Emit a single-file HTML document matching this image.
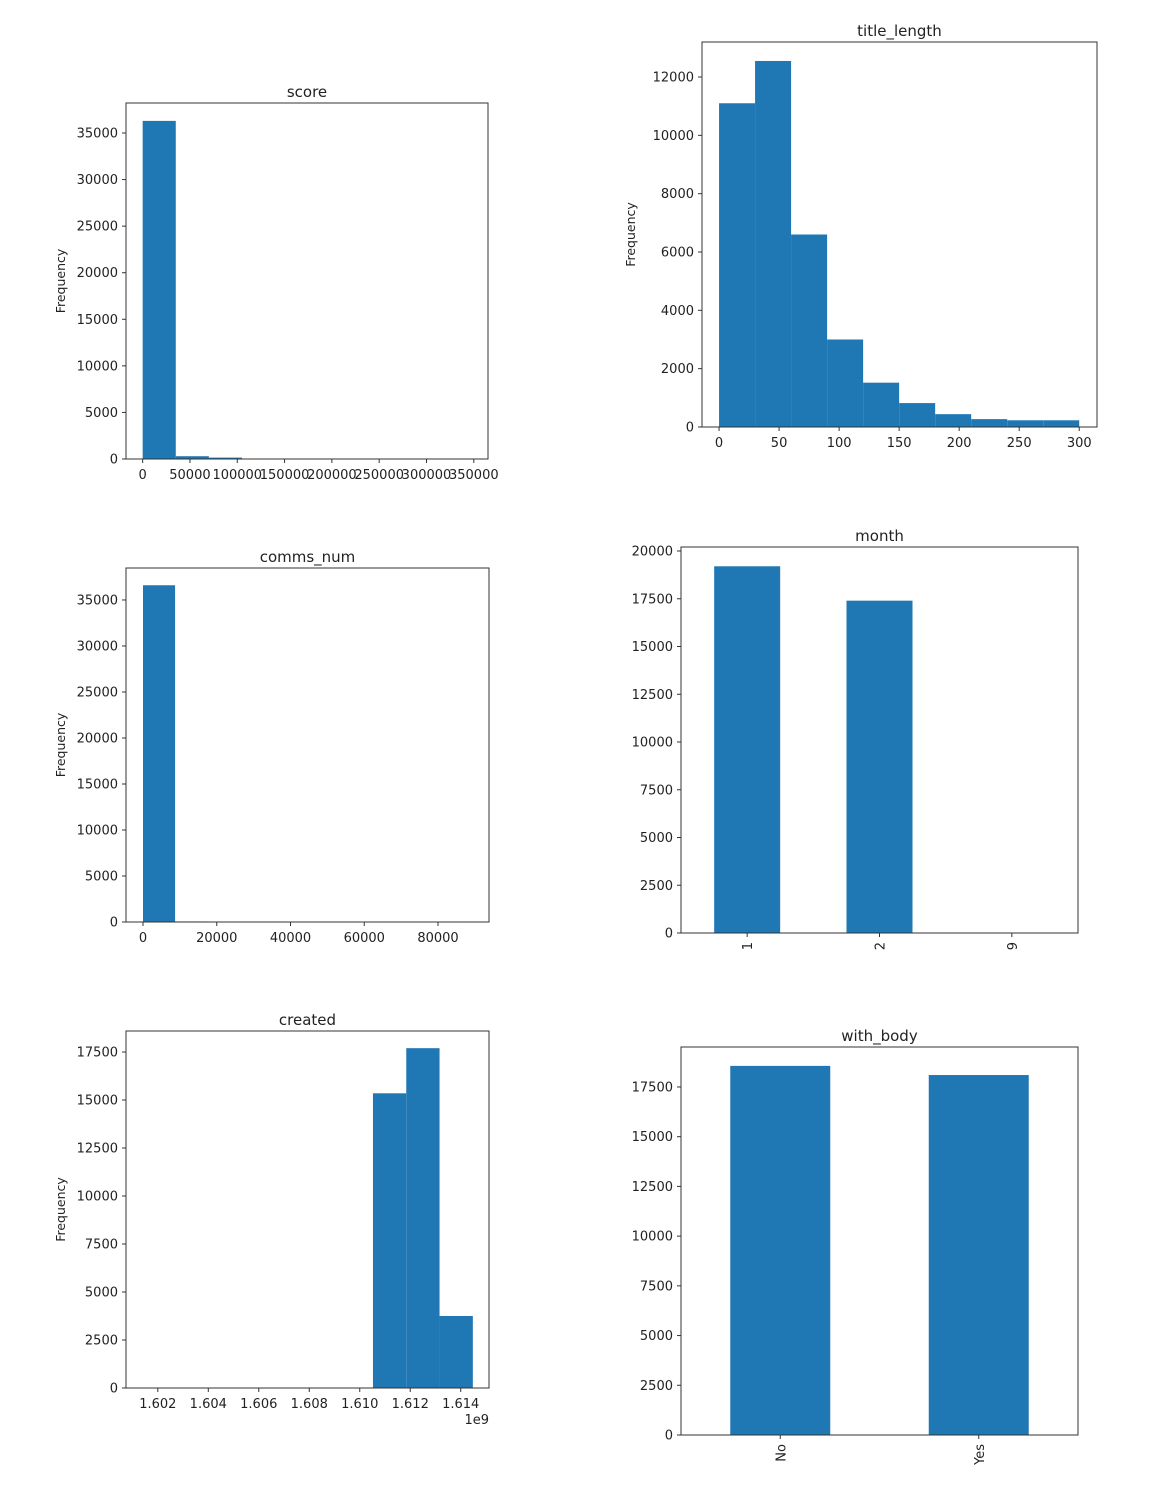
<!DOCTYPE html>
<html><head><meta charset="utf-8"><style>
body{margin:0;background:#fff;}
svg text{font-family:"DejaVu Sans","Liberation Sans",sans-serif;fill:#222;}
</style></head><body>
<svg id="fig" width="1154" height="1494" xmlns="http://www.w3.org/2000/svg"></svg>
<script>
// score histogram
const scoreCounts=[36300,300,150,20,5,3,2,1,1,1];
const scoreRange=[0,350000];
const scoreTicks=[0,50000,100000,150000,200000,250000,300000,350000];
const scoreYTicks=[0,5000,10000,15000,20000,25000,30000,35000];
// title_length histogram
const titleCounts=[11100,12550,6600,3000,1520,820,440,270,230,230];
const titleRange=[0,300];
const titleTicks=[0,50,100,150,200,250,300];
const titleYTicks=[0,2000,4000,6000,8000,10000,12000];
// comms_num histogram
const commsCounts=[36600,60,20,8,4,2,1,1,1,1];
const commsRange=[0,87000];
const commsTicks=[0,20000,40000,60000,80000];
const commsYTicks=[0,5000,10000,15000,20000,25000,30000,35000];
// month bar
const monthCats=["1","2","9"];
const monthVals=[19200,17400,5];
const monthYTicks=[0,2500,5000,7500,10000,12500,15000,17500,20000];
// created histogram
const createdCounts=[0,0,0,0,0,0,0,15350,17700,3750];
const createdRange=[1.60129,1.61448];
const createdTicks=[1.602,1.604,1.606,1.608,1.610,1.612,1.614];
const createdYTicks=[0,2500,5000,7500,10000,12500,15000,17500];
// with_body bar
const bodyCats=["No","Yes"];
const bodyVals=[18560,18100];
const bodyYTicks=[0,2500,5000,7500,10000,12500,15000,17500];

const NS="http://www.w3.org/2000/svg";
const svg=document.getElementById('fig');
function mk(tag,attrs,parent,txt){const e=document.createElementNS(NS,tag);for(const k in attrs)e.setAttribute(k,attrs[k]);if(txt!==undefined)e.textContent=txt;(parent||svg).appendChild(e);return e;}
const BLUE="#1f77b4";

function axes(p){
  const g=mk('g',{});
  
  
  const ys=v=>p.y1-(v-0)/(p.ymax)*(p.y1-p.y0);
  const xs=v=>p.x0+(v-p.xmin)/(p.xmax-p.xmin)*(p.x1-p.x0);
  return {g,ys,xs};
}
function frame(p,g,ys,title,ylabel){
  mk('rect',{x:p.x0,y:p.y0,width:p.x1-p.x0,height:p.y1-p.y0,fill:'none',stroke:'#333','stroke-width':1},g);
  const t=mk('text',{x:(p.x0+p.x1)/2,y:p.y0-6,'text-anchor':'middle','font-size':15},g,title);
  
  
  p.yt.forEach(v=>{const y=ys(v);
    mk('line',{x1:p.x0-4,x2:p.x0,y1:y,y2:y,stroke:'#333'},g);
    const l=mk('text',{x:p.x0-8,y:y+4.5,'text-anchor':'end','font-size':13},g,String(v));
    
    
  });
  if(ylabel){const yl=mk('text',{x:0,y:0,'font-size':12.5,'text-anchor':'middle',transform:`translate(${p.ylx},${(p.y0+p.y1)/2}) rotate(-90)`},g,'Frequency');
    
    }
}
function hist(p,counts,range,xt,title,fmt){
  p.xmin=p.dxmin;p.xmax=p.dxmax;
  const {g,ys,xs}=axes(p);
  const w=(range[1]-range[0])/counts.length;
  counts.forEach((c,i)=>{const a=xs(range[0]+i*w),b=xs(range[0]+(i+1)*w);
    const r=mk('rect',{x:a,y:ys(c),width:b-a,height:ys(0)-ys(c),fill:BLUE},g);
    
    });
  frame(p,g,ys,title,true);
  xt.forEach(v=>{const x=xs(v);
    mk('line',{x1:x,x2:x,y1:p.y1,y2:p.y1+4,stroke:'#333'},g);
    const l=mk('text',{x:x,y:p.y1+20,'text-anchor':'middle','font-size':13},g,fmt?fmt(v):String(v));
    
    });
  return g;
}
function bars(p,cats,vals,title,bw){
  const {g,ys}=axes(p);
  const n=cats.length, step=(p.x1-p.x0)/n;
  cats.forEach((c,i)=>{const cx=p.x0+step*(i+0.5);
    const r=mk('rect',{x:cx-bw/2,y:ys(vals[i]),width:bw,height:ys(0)-ys(vals[i]),fill:BLUE},g);
    
    
    mk('line',{x1:cx,x2:cx,y1:p.y1,y2:p.y1+4,stroke:'#333'},g);
    const l=mk('text',{x:0,y:0,'text-anchor':'end','font-size':13,transform:`translate(${cx+5},${p.y1+9}) rotate(-90)`},g,c);
    
    });
  frame(p,g,ys,title,false);
}
hist({id:'score',x0:126,x1:488,y0:103,y1:459,ymax:38220,dxmin:-17600,dxmax:365000,yt:scoreYTicks,ylx:65},scoreCounts,scoreRange,scoreTicks,'score');
hist({id:'title-length',x0:702,x1:1097,y0:42,y1:427,ymax:13200,dxmin:-14.2,dxmax:314.8,yt:titleYTicks,ylx:635},titleCounts,titleRange,titleTicks,'title_length');
hist({id:'comms-num',x0:126,x1:489,y0:568,y1:922,ymax:38475,dxmin:-4610,dxmax:93830,yt:commsYTicks,ylx:65},commsCounts,commsRange,commsTicks,'comms_num');
bars({id:'month',x0:681,x1:1078,y0:547,y1:933,ymax:20210,yt:monthYTicks},monthCats,monthVals,'month',66);
hist({id:'created',x0:126,x1:489,y0:1031,y1:1388,ymax:18595,dxmin:1.60074,dxmax:1.61512,yt:createdYTicks,ylx:65},createdCounts,createdRange,createdTicks,'created',v=>v.toFixed(3));
const off=mk('text',{x:489,y:1424,'text-anchor':'end','font-size':13},svg,'1e9');


bars({id:'with-body',x0:681,x1:1078,y0:1047,y1:1435,ymax:19510,yt:bodyYTicks},bodyCats,bodyVals,'with_body',100);
</script>
</body></html>
